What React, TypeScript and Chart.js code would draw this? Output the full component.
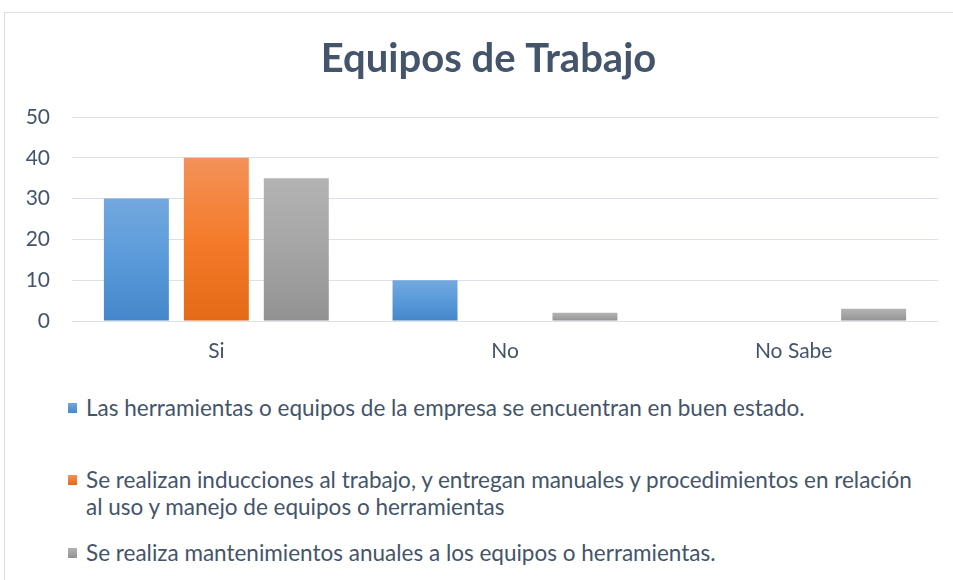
import React, { useEffect, useRef } from "react";
import { Chart, registerables } from "chart.js";

Chart.register(...registerables);

const title = "Equipos de Trabajo";
const categories = ["Si", "No", "No Sabe"];
const seriesLabels = [
  "Las herramientas o equipos de la empresa se encuentran en buen estado.",
  "Se realizan inducciones al trabajo, y entregan manuales y procedimientos en relación|al uso y manejo de equipos o herramientas",
  "Se realiza mantenimientos anuales a los equipos o herramientas.",
];
const herramientas = [30, 10, 0];
const inducciones = [40, 0, 0];
const mantenimientos = [35, 2, 3];
const yTicks = [0, 10, 20, 30, 40, 50];

const gradients = [
  ["#73A8DE", "#5A9ADA", "#4487CA"],
  ["#F39259", "#F47B2A", "#E36A16"],
  ["#B3B3B3", "#A5A5A5", "#929292"],
];

const TEXT = "#44546A";
const FONT = "Lato, 'Noto Sans', sans-serif";

function makeFill(idx: number) {
  const [top, mid, bot] = gradients[idx];
  return (ctx: any) => {
    const chart = ctx.chart;
    if (!chart.chartArea || ctx.type !== "data") return mid;
    const y = chart.scales.y;
    const t = y.getPixelForValue(ctx.raw);
    const b = y.getPixelForValue(0);
    if (!isFinite(t) || !isFinite(b) || Math.abs(b - t) < 1) return mid;
    const g = chart.ctx.createLinearGradient(0, t, 0, b);
    g.addColorStop(0, top);
    g.addColorStop(0.5, mid);
    g.addColorStop(1, bot);
    return g;
  };
}

export default function App() {
  const ref = useRef<HTMLCanvasElement | null>(null);

  useEffect(() => {
    if (!ref.current) return;
    const data = [herramientas, inducciones, mantenimientos];
    const chart = new Chart(ref.current, {
      type: "bar",
      data: {
        labels: categories,
        datasets: data.map((d, i) => ({
          label: seriesLabels[i].replace("|", " "),
          data: d,
          backgroundColor: makeFill(i),
          borderWidth: 0,
          categoryPercentage: 0.831,
          barPercentage: 0.8125,
          yAxisID: "y",
        })),
      },
      options: {
        responsive: false,
        animation: false,
        layout: { padding: { left: 24, right: 0, top: 0, bottom: 6 } },
        plugins: {
          legend: { display: false },
          tooltip: { enabled: false },
          title: {
            display: true,
            text: title,
            color: TEXT,
            font: { family: FONT, size: 40, weight: "bold" },
            padding: { top: 35, bottom: 34 },
          },
        },
        scales: {
          x: {
            grid: { display: false, drawTicks: false },
            border: { display: false },
            afterFit: (s: any) => {
              s.height = 43;
            },
            ticks: {
              color: TEXT,
              font: { family: FONT, size: 21 },
              padding: 18,
              maxRotation: 0,
            },
          },
          y: {
            min: 0,
            max: 50,
            afterFit: (s: any) => {
              s.width = 48;
            },
            afterBuildTicks: (s: any) => {
              s.ticks = yTicks.map((v) => ({ value: v }));
            },
            grid: { color: "#DCE1E8", lineWidth: 1, drawTicks: false },
            border: { display: false },
            ticks: {
              color: TEXT,
              font: { family: FONT, size: 21 },
              padding: 22,
              stepSize: 10,
            },
          },
          y2: {
            position: "right",
            min: 0,
            max: 50,
            afterFit: (s: any) => {
              s.width = 15;
            },
            grid: { display: false, drawTicks: false },
            border: { display: false },
            ticks: { display: false },
          },
        },
      },
    });
    return () => chart.destroy();
  }, []);

  const legendTops = [394, 466, 539];

  return (
    <div
      style={{
        position: "fixed",
        left: 0,
        top: 0,
        width: 953,
        height: 580,
        overflow: "hidden",
        background: "#fff",
        fontFamily: FONT,
      }}
    >
      <div
        style={{
          position: "absolute",
          left: 4,
          top: 12,
          width: 1000,
          height: 1000,
          border: "1px solid #D9DEE6",
          boxSizing: "border-box",
        }}
      />
      <canvas
        ref={ref}
        width={953}
        height={370}
        style={{ position: "absolute", left: 0, top: 0 }}
      />
      {seriesLabels.map((lab, i) => {
        const lines = lab.split("|");
        const [t, , b] = gradients[i];
        return (
          <div
            key={i}
            style={{
              position: "absolute",
              left: 0,
              top: legendTops[i],
              width: 953,
            }}
          >
            <div
              style={{
                position: "absolute",
                left: 68,
                top: 9,
                width: 9,
                height: 10,
                background: `linear-gradient(${t}, ${b})`,
              }}
            />
            <div
              style={{
                position: "absolute",
                left: 86,
                top: 0,
                fontSize: 22.5,
                lineHeight: "27px",
                color: TEXT,
                whiteSpace: "nowrap",
              }}
            >
              {lines.map((l, k) => (
                <div key={k}>{l}</div>
              ))}
            </div>
          </div>
        );
      })}
    </div>
  );
}
